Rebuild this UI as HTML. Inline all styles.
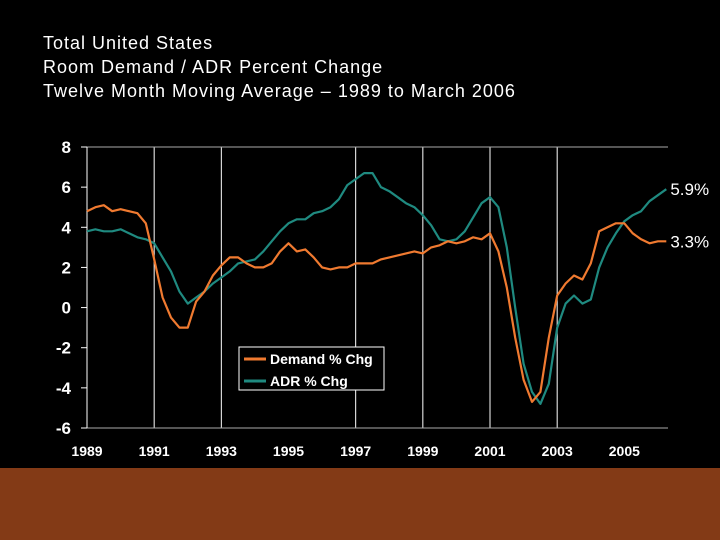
<!DOCTYPE html>
<html><head><meta charset="utf-8"><style>
html,body{margin:0;padding:0;background:#000;}
svg{display:block;}
</style></head><body>
<svg id="chart" width="720" height="540" xmlns="http://www.w3.org/2000/svg">
<rect x="0" y="0" width="720" height="540" fill="#000"/>
<rect x="0" y="468" width="720" height="72" fill="#833a16"/>
<g font-family="Liberation Sans, sans-serif" font-size="18" fill="#fff" letter-spacing="1">
<text x="43" y="49">Total United States</text>
<text x="43" y="73">Room Demand / ADR Percent Change</text>
<text x="43" y="97">Twelve Month Moving Average – 1989 to March 2006</text>
</g>
<g id="grid"></g>
<g id="axes"></g>
<g id="series"></g>
<g>
<rect x="239" y="347" width="145" height="43" fill="#000" stroke="#fff" stroke-width="1"/>
<line x1="244" y1="359" x2="266" y2="359" stroke="#f07a30" stroke-width="3"/>
<text x="270" y="364" font-family="Liberation Sans, sans-serif" font-weight="bold" font-size="14" fill="#fff">Demand % Chg</text>
<line x1="244" y1="381" x2="266" y2="381" stroke="#1f8a80" stroke-width="3"/>
<text x="270" y="386" font-family="Liberation Sans, sans-serif" font-weight="bold" font-size="14" fill="#fff">ADR % Chg</text>
</g>
</svg>
<script>
const demand = [4.8,5.0,5.1,4.8,4.9,4.8,4.7,4.2,2.4,0.5,-0.5,-1.0,-1.0,0.3,0.8,1.6,2.1,2.5,2.5,2.2,2.0,2.0,2.2,2.8,3.2,2.8,2.9,2.5,2.0,1.9,2.0,2.0,2.2,2.2,2.2,2.4,2.5,2.6,2.7,2.8,2.7,3.0,3.1,3.3,3.2,3.3,3.5,3.4,3.7,2.8,1.0,-1.5,-3.6,-4.7,-4.2,-1.5,0.6,1.2,1.6,1.4,2.2,3.8,4.0,4.2,4.2,3.7,3.4,3.2,3.3,3.3];
const adr = [3.8,3.9,3.8,3.8,3.9,3.7,3.5,3.4,3.2,2.5,1.8,0.8,0.2,0.5,0.8,1.2,1.5,1.8,2.2,2.3,2.4,2.8,3.3,3.8,4.2,4.4,4.4,4.7,4.8,5.0,5.4,6.1,6.4,6.7,6.7,6.0,5.8,5.5,5.2,5.0,4.6,4.1,3.4,3.3,3.4,3.8,4.5,5.2,5.5,5.0,3.0,0.0,-2.8,-4.2,-4.8,-3.8,-1.0,0.2,0.6,0.2,0.4,2.0,3.0,3.7,4.3,4.6,4.8,5.3,5.6,5.9];
const startYear = 1989, stepYears = 0.25;
const yTicks = [8,6,4,2,0,-2,-4,-6];
const xTickYears = [1989,1991,1993,1995,1997,1999,2001,2003,2005];
const gridYears = [1991,1993,1997,1999,2001,2003];
const endLabels = ["5.9%","3.3%"];

const NS="http://www.w3.org/2000/svg";
const X0=87, X1=668, Y0=147, Y1=428, YMIN=-6, YMAX=8, XMIN=1989, XMAX=2006.3;
const xs = t => X0 + (t-XMIN)/(XMAX-XMIN)*(X1-X0);
const ys = v => Y1 - (v-YMIN)/(YMAX-YMIN)*(Y1-Y0);
function mk(tag, attrs, parent){const e=document.createElementNS(NS,tag);for(const k in attrs)e.setAttribute(k,attrs[k]);parent.appendChild(e);return e;}
const grid=document.getElementById('grid'), axes=document.getElementById('axes'), series=document.getElementById('series');

gridYears.forEach(y=>{
  const l=mk('line',{x1:xs(y),x2:xs(y),y1:Y0,y2:Y1,stroke:'#fff','stroke-width':1},grid);
  
  
});
[YMAX,YMIN].forEach(v=>{
  const l=mk('line',{x1:X0,x2:X1,y1:ys(v),y2:ys(v),stroke:'#aaa','stroke-width':1},grid);
  
  
});
const ya=mk('line',{x1:X0,x2:X0,y1:Y0,y2:Y1,stroke:'#fff','stroke-width':1},axes);


yTicks.forEach(v=>{
  const tk=mk('line',{x1:X0-6,x2:X0,y1:ys(v),y2:ys(v),stroke:'#fff'},axes);
  
  
  const t=mk('text',{x:71,y:ys(v)+6,'text-anchor':'end','font-family':'Liberation Sans, sans-serif','font-weight':'bold','font-size':17,fill:'#fff'},axes);
  t.textContent=String(v);
  
  
});
xTickYears.forEach(y=>{
  const t=mk('text',{x:xs(y),y:456,'text-anchor':'middle','font-family':'Liberation Sans, sans-serif','font-weight':'bold','font-size':14,fill:'#fff'},axes);
  t.textContent=String(y);
  
  
});
function drawLine(arr,color,name){
  const pts=arr.map((v,i)=>xs(startYear+i*stepYears).toFixed(1)+','+ys(v).toFixed(1)).join(' ');
  const p=mk('polyline',{points:pts,fill:'none',stroke:color,'stroke-width':2.2,'stroke-linejoin':'round'},series);
  
  
}
drawLine(adr,'#1f8a80','adr-line');
drawLine(demand,'#f07a30','demand-line');
const lastT=startYear+(adr.length-1)*stepYears;
[[adr,endLabels[0],'adr-end-label'],[demand,endLabels[1],'demand-end-label']].forEach(([arr,lab,name])=>{
  const t=mk('text',{x:xs(lastT)+4,y:ys(arr[arr.length-1])+6,'font-family':'Liberation Sans, sans-serif','font-size':17,fill:'#fff'},series);
  t.textContent=lab;
  
  
});
</script>
</body></html>
